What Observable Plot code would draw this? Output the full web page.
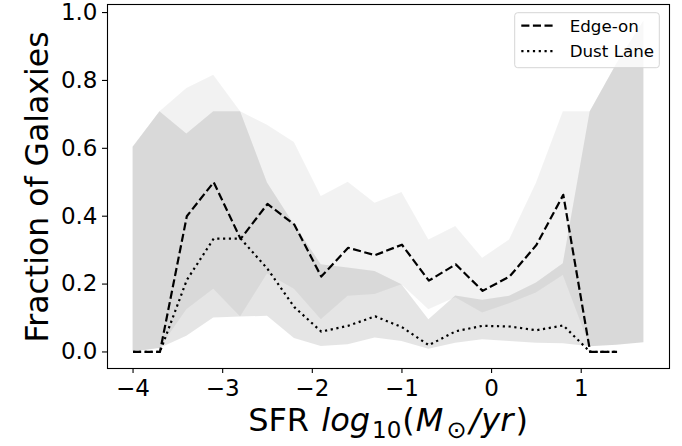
<!DOCTYPE html>
<html><head><meta charset="utf-8">
<script src="https://cdn.jsdelivr.net/npm/d3@7"></script>
<script src="https://cdn.jsdelivr.net/npm/@observablehq/plot@0.6"></script>
<style>body{margin:0;background:#fff} svg{display:block}</style>
</head><body><div id="chart"></div>
<script>
const sfrBins = [-4, -3.7, -3.4, -3.1, -2.8, -2.5, -2.2, -1.9, -1.6, -1.3, -1.0, -0.7, -0.4, -0.1, 0.2, 0.5, 0.8, 1.1, 1.4, 1.7];
const edgeOnFrac = [0, 0, 0.40, 0.50, 0.333, 0.436, 0.375, 0.222, 0.307, 0.285, 0.316, 0.21, 0.258, 0.18, 0.222, 0.315, 0.463, 0, 0, null];
const dustLaneFrac = [0, 0, 0.212, 0.334, 0.334, 0.245, 0.132, 0.06, 0.077, 0.105, 0.073, 0.02, 0.061, 0.077, 0.075, 0.064, 0.078, 0, 0, null];
const edgeOnUpper = [0.603, 0.708, 0.776, 0.815, 0.708, 0.668, 0.617, 0.458, 0.50, 0.438, 0.47, 0.33, 0.37, 0.276, 0.33, 0.497, 0.708, 0.708, 0.85, 0.975];
const edgeOnLower = [0, 0.01, 0.124, 0.185, 0.103, 0.23, 0.185, 0.095, 0.164, 0.169, 0.198, 0.124, 0.16, 0.115, 0.142, 0.174, 0.225, 0.015, 0.02, 0.027];
const dustLaneUpper = [0.603, 0.708, 0.642, 0.708, 0.708, 0.498, 0.375, 0.257, 0.247, 0.237, 0.198, 0.095, 0.165, 0.152, 0.164, 0.203, 0.26, 0.708, 0.85, 0.975];
const dustLaneLower = [0, 0.01, 0.046, 0.10, 0.103, 0.105, 0.04, 0.016, 0.021, 0.041, 0.031, 0.008, 0.026, 0.036, 0.031, 0.026, 0.024, 0.015, 0.02, 0.027];
const xTicks = [-4, -3, -2, -1, 0, 1];
const yTicks = [0, 0.2, 0.4, 0.6, 0.8, 1.0];
const seriesNames = ["Edge-on", "Dust Lane"];

const rows = sfrBins.map((x, i) => ({
  x, edge: edgeOnFrac[i], dust: dustLaneFrac[i],
  eu: edgeOnUpper[i], el: edgeOnLower[i], du: dustLaneUpper[i], dl: dustLaneLower[i]
}));

const fmt = d => (d < 0 ? "\u2212" + Math.abs(d) : String(d));
const dashEdge = "8.1,3.5";
const dashDust = "2.2,3.6";

const chart = Plot.plot({
  width: 682, height: 446,
  marginLeft: 107, marginRight: 13, marginTop: 4, marginBottom: 78,
  style: {fontFamily: "DejaVu Sans", fontSize: "23px", color: "black", background: "white"},
  x: {domain: [-4.285, 1.985]},
  y: {domain: [-0.04875, 1.02375]},
  marks: [
    Plot.areaY(rows, {x: "x", y1: "el", y2: "eu", fill: "black", fillOpacity: 0.05}),
    Plot.areaY(rows, {x: "x", y1: "dl", y2: "du", fill: "black", fillOpacity: 0.1}),
    Plot.lineY(rows, {x: "x", y: "edge", stroke: "black", strokeWidth: 2.2, strokeDasharray: dashEdge, strokeLinecap: "butt"}),
    Plot.lineY(rows, {x: "x", y: "dust", stroke: "black", strokeWidth: 2.2, strokeDasharray: dashDust, strokeLinecap: "butt"}),
    Plot.frame({stroke: "black", strokeWidth: 1.1}),
    Plot.axisX({ticks: xTicks, tickFormat: fmt, tickSize: 5, tickPadding: 6, label: null, strokeWidth: 1.1, fontSize: 23}),
    Plot.axisY({ticks: yTicks, tickFormat: d3.format(".1f"), tickSize: 5, tickPadding: 5, label: null, strokeWidth: 1.1, fontSize: 23})
  ]
});
document.getElementById("chart").appendChild(chart);

const svg = d3.select(chart);
// y label
svg.append("text")
  .attr("transform", "translate(48,187) rotate(-90)")
  .attr("text-anchor", "middle")
  .attr("font-family", "DejaVu Sans")
  .attr("font-size", 31.5)
  .attr("fill", "black")
  .text("Fraction of Galaxies");
// x label with math
const xl = svg.append("text")
  .attr("x", 388).attr("y", 431)
  .attr("text-anchor", "middle")
  .attr("font-family", "DejaVu Sans")
  .attr("font-size", 32)
  .attr("fill", "black");
xl.append("tspan").text("SFR ");
xl.append("tspan").attr("font-style", "italic").attr("dx", 2).text("log");
xl.append("tspan").attr("font-size", 23).attr("dy", 7).attr("dx", 2).text("10");
xl.append("tspan").attr("dy", -7).attr("dx", 1).text("(");
xl.append("tspan").attr("font-style", "italic").attr("dx", 1).text("M");
xl.append("tspan").attr("font-size", 24).attr("dy", 7).attr("dx", 3).text("\u2299");
xl.append("tspan").attr("dy", -7).attr("dx", 3).attr("font-style", "italic").text("/");
xl.append("tspan").attr("font-style", "italic").attr("dx", 1).text("yr");
xl.append("tspan").attr("dx", 2).text(")");

// legend
const lg = svg.append("g").attr("text-anchor", "start");
lg.append("rect").attr("x", 514.7).attr("y", 12.7).attr("width", 144.6).attr("height", 55)
  .attr("rx", 3).attr("fill", "white").attr("fill-opacity", 0.8).attr("stroke", "#d5d5d5").attr("stroke-width", 1);
const dashes = [dashEdge, dashDust];
const ly = [25.7, 51.2];
seriesNames.forEach((name, i) => {
  lg.append("line").attr("x1", 521.3).attr("x2", 556).attr("y1", ly[i]).attr("y2", ly[i])
    .attr("stroke", "black").attr("stroke-width", 2.2).attr("stroke-dasharray", dashes[i]);
  lg.append("text").attr("x", 569.7).attr("y", ly[i] + 6.2).attr("text-anchor", "start")
    .attr("font-family", "DejaVu Sans").attr("font-size", 16.7).attr("fill", "black").text(name);
});
</script>
</body></html>
